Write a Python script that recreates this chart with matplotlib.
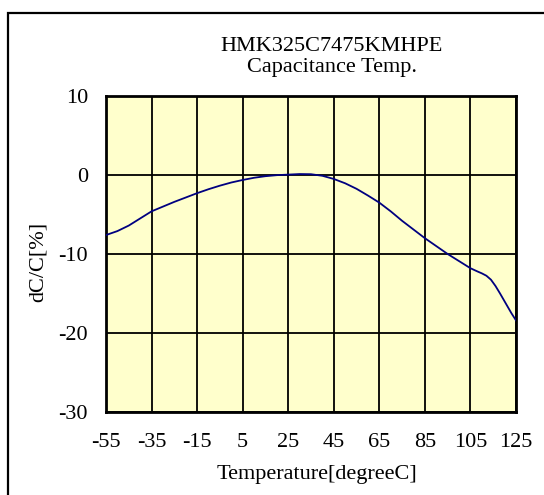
import matplotlib
matplotlib.use("Agg")
import matplotlib.pyplot as plt
from matplotlib.patches import Rectangle

plt.rcParams["font.family"] = ["Liberation Serif", "DejaVu Serif"]
plt.rcParams["axes.unicode_minus"] = False

# curve (temperature in degC, dC/C in %)
temp = [-55, -50, -45, -40, -35, -30, -25, -20, -15, -10, -5, 0, 5, 10, 15, 20,
        25, 30, 35, 40, 45, 50, 55, 60, 65, 70, 75, 80, 85, 90, 95, 100, 105,
        108, 110, 112, 114, 116, 118, 120, 123, 125]
dcc = [-7.6, -7.1, -6.4, -5.5, -4.6, -4.0, -3.4, -2.85, -2.3, -1.8, -1.35, -0.95,
       -0.63, -0.35, -0.15, -0.02, 0.05, 0.12, 0.1, -0.1, -0.5, -1.05, -1.75,
       -2.6, -3.5, -4.6, -5.8, -6.9, -8.0, -9.0, -10.0, -10.9, -11.8,
       -12.2, -12.45, -12.75, -13.25, -14.05, -15.0, -16.0, -17.5, -18.4]

xticks = list(range(-55, 126, 20))
yticks = [-30, -20, -10, 0, 10]

FS = 16

fig = plt.figure(figsize=(5.44, 4.95), dpi=100)
fig.patches.append(Rectangle((8 / 544, -0.1), 1.2, 1.1 - 12.5 / 495, transform=fig.transFigure,
                             facecolor="none", edgecolor="black", linewidth=1.6))

ax = fig.add_axes([106 / 544, 1 - 412 / 495, 410 / 544, 316 / 495])
ax.set_facecolor("#ffffcc")
ax.plot(temp, dcc, color="#000080", linewidth=1.3, zorder=3)

ax.set_xlim(-55, 125)
ax.set_ylim(-30, 10)
ax.set_xticks(xticks)
ax.set_yticks(yticks)
ax.grid(True, color="black", linewidth=1.3, zorder=1)
ax.set_axisbelow(True)
ax.tick_params(length=0, labelsize=FS)
ax.tick_params(axis="x", pad=15)
ax.tick_params(axis="y", pad=13)
for s in ax.spines.values():
    s.set_linewidth(2.0)

fig.text(317 / 544, 1 - 475 / 495, "Temperature[degreeC]", ha="center", va="center", fontsize=FS)
fig.text(38 / 544, 1 - 262 / 495, "dC/C[%]", ha="center", va="center", fontsize=FS, rotation=90)
fig.text(332 / 544, 1 - 57 / 495, "HMK325C7475KMHPE\nCapacitance Temp.", ha="center",
         va="center", multialignment="center", fontsize=FS, linespacing=1.12)

fig.savefig("out.png", dpi=100)
